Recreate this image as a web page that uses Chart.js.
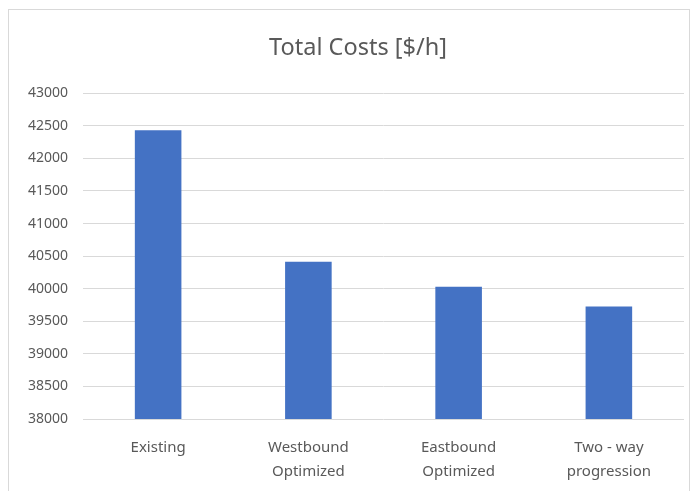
<!DOCTYPE html>
<html>
<head>
<meta charset="utf-8">
<script src="https://cdn.jsdelivr.net/npm/chart.js@4/dist/chart.umd.min.js"></script>
<style>
  html, body { margin: 0; padding: 0; background: #fff; }
  #wrap { position: relative; width: 694px; height: 491px; overflow: hidden; }
  #frame { position: absolute; left: 8px; top: 9px; width: 682px; height: 500px; border: 1px solid #d9d9d9; box-sizing: border-box; }
  #chart { position: absolute; left: 0; top: 0; }
</style>
</head>
<body>
<div id="wrap">
  <div id="frame"></div>
  <canvas id="chart" width="694" height="491"></canvas>
</div>
<script>
// values
const categories = [['Existing'], ['Westbound', 'Optimized'], ['Eastbound', 'Optimized'], ['Two - way', 'progression']];
const totalCosts = [42430, 40415, 40030, 39725];
const yMin = 38000;
const yMax = 43000;
const yStep = 500;

const textGrey = '#595959';
const fontFamily = "'Noto Sans', 'Liberation Sans', sans-serif";

// the Excel title sits a bit right of the canvas centre
const nudgeTitle = {
  id: 'nudgeTitle',
  afterLayout(chart) {
    const t = chart.titleBlock;
    if (t) { t.left += 16; t.right += 16; }
  },
};

new Chart(document.getElementById('chart'), {
  type: 'bar',
  data: {
    labels: categories,
    datasets: [{
      label: 'Total Costs [$/h]',
      data: totalCosts,
      backgroundColor: '#4472C4',
      barPercentage: 0.31,
      categoryPercentage: 1,
    }],
  },
  options: {
    responsive: false,
    animation: false,
    layout: { padding: { left: 0, right: 10, top: 0, bottom: 0 } },
    plugins: {
      legend: { display: false },
      tooltip: { enabled: false },
      title: {
        display: true,
        text: 'Total Costs [$/h]',
        color: textGrey,
        font: { family: fontFamily, size: 23.5, weight: 'normal' },
        padding: { top: 34, bottom: 31 },
      },
    },
    scales: {
      y: {
        min: yMin,
        max: yMax,
        ticks: {
          stepSize: yStep, color: textGrey, padding: 15,
          font: { family: fontFamily, size: 14 },
          callback: v => String(v),
        },
        grid: { color: '#d9d9d9', lineWidth: 1, drawTicks: false },
        border: { display: false },
        afterFit: s => { s.width = 83; },
      },
      x: {
        ticks: { color: textGrey, padding: 17, font: { family: fontFamily, size: 15, lineHeight: 1.6 }, maxRotation: 0 },
        grid: { display: false, drawTicks: false },
        border: { display: false },
        afterFit: s => { s.height = 72; },
      },
    },
  },
  plugins: [nudgeTitle],
});
</script>
</body>
</html>
